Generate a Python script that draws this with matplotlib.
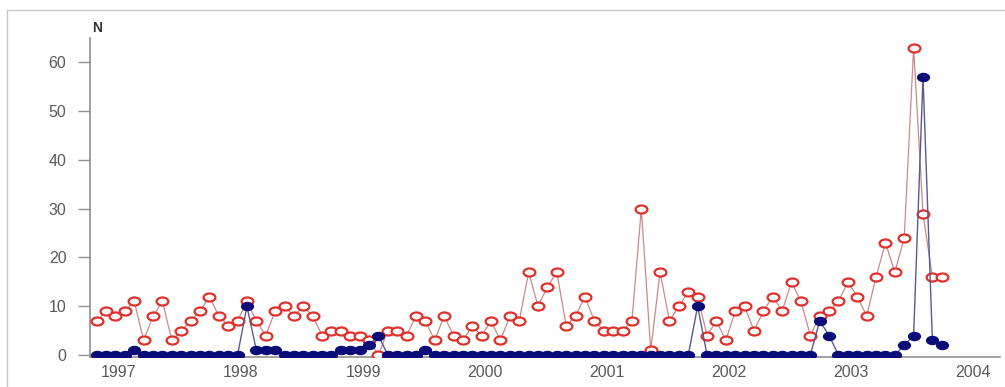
import numpy as np
import matplotlib
matplotlib.use("Agg")
import matplotlib.pyplot as plt
from matplotlib.lines import Line2D
from matplotlib.path import Path
from matplotlib.transforms import Affine2D

# ---------------------------------------------------------------------------
# Data (~13 periods per year)
# ---------------------------------------------------------------------------

START_YEAR = 1996.818
PERIODS_PER_YEAR = 13

red_counts = [7, 9, 8, 9, 11, 3, 8, 11, 3, 5,
              7, 9, 12, 8, 6, 7, 11, 7, 4, 9,
              10, 8, 10, 8, 4, 5, 5, 4, 4, 3,
              0, 5, 5, 4, 8, 7, 3, 8, 4, 3,
              6, 4, 7, 3, 8, 7, 17, 10, 14, 17,
              6, 8, 12, 7, 5, 5, 5, 7, 30, 1,
              17, 7, 10, 13, 12, 4, 7, 3, 9, 10,
              5, 9, 12, 9, 15, 11, 4, 8, 9, 11,
              15, 12, 8, 16, 23, 17, 24, 63, 29, 16,
              16]

blue_counts = [0, 0, 0, 0, 1, 0, 0, 0, 0, 0,
               0, 0, 0, 0, 0, 0, 10, 1, 1, 1,
               0, 0, 0, 0, 0, 0, 1, 1, 1, 2,
               4, 0, 0, 0, 0, 1, 0, 0, 0, 0,
               0, 0, 0, 0, 0, 0, 0, 0, 0, 0,
               0, 0, 0, 0, 0, 0, 0, 0, 0, 0,
               0, 0, 0, 0, 10, 0, 0, 0, 0, 0,
               0, 0, 0, 0, 0, 0, 0, 7, 4, 0,
               0, 0, 0, 0, 0, 0, 2, 4, 57, 3,
               2]

years = [1997, 1998, 1999, 2000, 2001, 2002, 2003, 2004]
y_ticks = [0, 10, 20, 30, 40, 50, 60]

t = START_YEAR + np.arange(len(red_counts)) / PERIODS_PER_YEAR

# flattened circle marker (the source image is squashed vertically)
ellipse = Path.unit_circle().transformed(Affine2D().scale(1.0, 0.68))

# ---------------------------------------------------------------------------
# Figure
# ---------------------------------------------------------------------------

plt.rcParams["font.family"] = ["Liberation Sans", "DejaVu Sans"]

W, H = 1005, 387
fig = plt.figure(figsize=(W / 100, H / 100), dpi=100)
ax = fig.add_axes([90 / W, 1 - 357 / H, (1000 - 90) / W, (357 - 38) / H])

# outer frame (cropped)
fig.add_artist(Line2D([7 / W, 1.0], [1 - 10 / H, 1 - 10 / H],
                      transform=fig.transFigure, color="#c8c8c8", lw=1))
fig.add_artist(Line2D([7 / W, 7 / W], [0, 1 - 10 / H],
                      transform=fig.transFigure, color="#c8c8c8", lw=1))

ax.plot(t, red_counts, color="#c98a8a", lw=0.9, zorder=2)
ax.plot(t, red_counts, ls="none", marker=ellipse, ms=8.5, mfc="white",
        mec="#e0302a", mew=1.6, zorder=3)
ax.plot(t, blue_counts, color="#5a5a8c", lw=1.0, zorder=4)
ax.plot(t, blue_counts, ls="none", marker=ellipse, ms=8.5, mfc="#0c0c78",
        mec="#0c0c78", zorder=5)

ax.set_xlim(1996.763, 2004.218)
ax.set_ylim(-0.4, 65)

ax.set_xticks(years)
ax.set_xticklabels([str(y) for y in years])
ax.set_yticks(y_ticks)

ax.tick_params(axis="x", length=0, pad=6, labelsize=11.5, labelcolor="#5a5a5a")
ax.tick_params(axis="y", length=9, width=1, color="#909090", pad=8,
               labelsize=11.5, labelcolor="#5a5a5a")

for side in ("top", "right"):
    ax.spines[side].set_visible(False)
for side in ("left", "bottom"):
    ax.spines[side].set_color("#909090")
    ax.spines[side].set_linewidth(1.2)

fig.text(97 / W, 1 - 28 / H, "N", ha="center", va="center",
         fontsize=10, fontweight="bold", color="#333333")

fig.savefig("out.png", dpi=100)
